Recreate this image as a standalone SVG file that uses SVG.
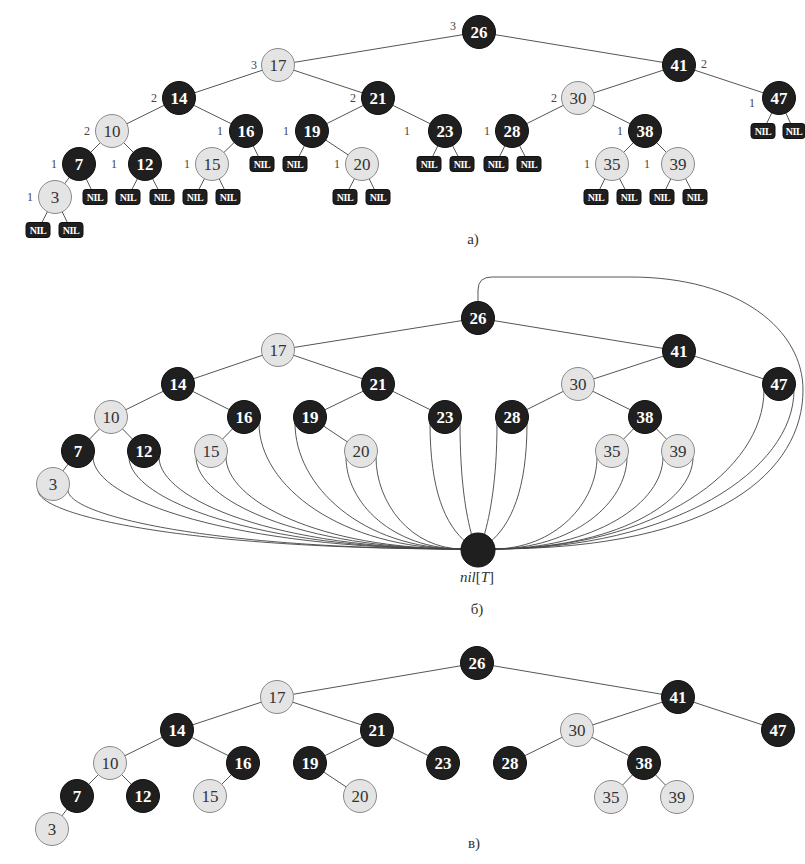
<svg xmlns="http://www.w3.org/2000/svg" width="805" height="864" viewBox="0 0 805 864">
<style>
.bg{fill:#fff}
.e{stroke:#555;stroke-width:1;fill:none}
.c{stroke:#444;stroke-width:0.9;fill:none}
.b{fill:#1f1f1f;stroke:#111;stroke-width:1}
.r{fill:#e4e4e4;stroke:#8a8a8a;stroke-width:1}
text{font-family:'Liberation Serif','Times New Roman','DejaVu Serif',serif}
.tb{font-weight:bold;font-size:17px;fill:#fff;text-anchor:middle}
.tr{font-size:17px;fill:#333;text-anchor:middle}
.nb{fill:#1f1f1f;stroke:#111;stroke-width:1}
.nt{font-weight:bold;font-size:10px;fill:#fff;text-anchor:middle;letter-spacing:-0.5px}
.h{font-size:12px;fill:#444;text-anchor:middle}
.cap{font-size:15px;fill:#333;text-anchor:middle}
</style>
<rect class="bg" x="0" y="0" width="805" height="864"/>

<!-- ===== Panel a ===== -->
<g id="a-connectors">
<line class="e" x1="479" y1="32" x2="278" y2="65"/>
<line class="e" x1="479" y1="32" x2="679" y2="65"/>
<line class="e" x1="278" y1="65" x2="179" y2="98"/>
<line class="e" x1="278" y1="65" x2="378" y2="98"/>
<line class="e" x1="179" y1="98" x2="112" y2="131"/>
<line class="e" x1="179" y1="98" x2="246" y2="131"/>
<line class="e" x1="112" y1="131" x2="79" y2="164"/>
<line class="e" x1="112" y1="131" x2="145" y2="164"/>
<line class="e" x1="79" y1="164" x2="55" y2="197"/>
<line class="e" x1="246" y1="131" x2="212" y2="164"/>
<line class="e" x1="378" y1="98" x2="312" y2="131"/>
<line class="e" x1="378" y1="98" x2="445" y2="131"/>
<line class="e" x1="312" y1="131" x2="362" y2="164"/>
<line class="e" x1="679" y1="65" x2="578" y2="98"/>
<line class="e" x1="679" y1="65" x2="779" y2="98"/>
<line class="e" x1="578" y1="98" x2="512" y2="131"/>
<line class="e" x1="578" y1="98" x2="645" y2="131"/>
<line class="e" x1="645" y1="131" x2="612" y2="164"/>
<line class="e" x1="645" y1="131" x2="678" y2="164"/>
<line class="e" x1="55" y1="197" x2="38" y2="230"/>
<line class="e" x1="55" y1="197" x2="71" y2="230"/>
<line class="e" x1="79" y1="164" x2="95" y2="197"/>
<line class="e" x1="145" y1="164" x2="128" y2="197"/>
<line class="e" x1="145" y1="164" x2="162" y2="197"/>
<line class="e" x1="212" y1="164" x2="195" y2="197"/>
<line class="e" x1="212" y1="164" x2="228" y2="197"/>
<line class="e" x1="246" y1="131" x2="262" y2="164"/>
<line class="e" x1="312" y1="131" x2="295" y2="164"/>
<line class="e" x1="362" y1="164" x2="345" y2="197"/>
<line class="e" x1="362" y1="164" x2="378" y2="197"/>
<line class="e" x1="445" y1="131" x2="429" y2="164"/>
<line class="e" x1="445" y1="131" x2="462" y2="164"/>
<line class="e" x1="512" y1="131" x2="496" y2="164"/>
<line class="e" x1="512" y1="131" x2="529" y2="164"/>
<line class="e" x1="612" y1="164" x2="596" y2="197"/>
<line class="e" x1="612" y1="164" x2="629" y2="197"/>
<line class="e" x1="678" y1="164" x2="662" y2="197"/>
<line class="e" x1="678" y1="164" x2="695" y2="197"/>
<line class="e" x1="779" y1="98" x2="763" y2="131"/>
<line class="e" x1="779" y1="98" x2="794" y2="131"/>
</g>

<g id="a-26"><circle class="b" cx="479" cy="32" r="16.5"/><text class="tb" x="479" y="38">26</text><text class="h" x="453" y="30">3</text></g>
<g id="a-17"><circle class="r" cx="278" cy="65" r="16.5"/><text class="tr" x="278" y="71">17</text><text class="h" x="254" y="69">3</text></g>
<g id="a-41"><circle class="b" cx="679" cy="65" r="16.5"/><text class="tb" x="679" y="71">41</text><text class="h" x="704" y="68">2</text></g>
<g id="a-14"><circle class="b" cx="179" cy="98" r="16.5"/><text class="tb" x="179" y="104">14</text><text class="h" x="154" y="102">2</text></g>
<g id="a-21"><circle class="b" cx="378" cy="98" r="16.5"/><text class="tb" x="378" y="104">21</text><text class="h" x="353" y="102">2</text></g>
<g id="a-30"><circle class="r" cx="578" cy="98" r="16.5"/><text class="tr" x="578" y="104">30</text><text class="h" x="554" y="102">2</text></g>
<g id="a-47"><circle class="b" cx="779" cy="98" r="16.5"/><text class="tb" x="779" y="104">47</text><text class="h" x="752" y="107">1</text></g>
<g id="a-10"><circle class="r" cx="112" cy="131" r="16.5"/><text class="tr" x="112" y="137">10</text><text class="h" x="87" y="135">2</text></g>
<g id="a-16"><circle class="b" cx="246" cy="131" r="16.5"/><text class="tb" x="246" y="137">16</text><text class="h" x="220" y="135">1</text></g>
<g id="a-19"><circle class="b" cx="312" cy="131" r="16.5"/><text class="tb" x="312" y="137">19</text><text class="h" x="286" y="135">1</text></g>
<g id="a-23"><circle class="b" cx="445" cy="131" r="16.5"/><text class="tb" x="445" y="137">23</text><text class="h" x="407" y="135">1</text></g>
<g id="a-28"><circle class="b" cx="512" cy="131" r="16.5"/><text class="tb" x="512" y="137">28</text><text class="h" x="487" y="135">1</text></g>
<g id="a-38"><circle class="b" cx="645" cy="131" r="16.5"/><text class="tb" x="645" y="137">38</text><text class="h" x="620" y="135">1</text></g>
<g id="a-7"><circle class="b" cx="79" cy="164" r="16.5"/><text class="tb" x="79" y="170">7</text><text class="h" x="54" y="168">1</text></g>
<g id="a-12"><circle class="b" cx="145" cy="164" r="16.5"/><text class="tb" x="145" y="170">12</text><text class="h" x="114" y="168">1</text></g>
<g id="a-15"><circle class="r" cx="212" cy="164" r="16.5"/><text class="tr" x="212" y="170">15</text><text class="h" x="187" y="168">1</text></g>
<g id="a-20"><circle class="r" cx="362" cy="164" r="16.5"/><text class="tr" x="362" y="170">20</text><text class="h" x="337" y="168">1</text></g>
<g id="a-35"><circle class="r" cx="612" cy="164" r="16.5"/><text class="tr" x="612" y="170">35</text><text class="h" x="587" y="168">1</text></g>
<g id="a-39"><circle class="r" cx="678" cy="164" r="16.5"/><text class="tr" x="678" y="170">39</text><text class="h" x="647" y="168">1</text></g>
<g id="a-3"><circle class="r" cx="55" cy="197" r="16.5"/><text class="tr" x="55" y="203">3</text><text class="h" x="30" y="201">1</text></g>

<g id="a-nil-leaves">
<rect class="nb" x="26" y="222.5" width="24" height="15" rx="3"/><text class="nt" x="38" y="234">NIL</text>
<rect class="nb" x="59" y="222.5" width="24" height="15" rx="3"/><text class="nt" x="71" y="234">NIL</text>
<rect class="nb" x="83" y="189.5" width="24" height="15" rx="3"/><text class="nt" x="95" y="201">NIL</text>
<rect class="nb" x="116" y="189.5" width="24" height="15" rx="3"/><text class="nt" x="128" y="201">NIL</text>
<rect class="nb" x="150" y="189.5" width="24" height="15" rx="3"/><text class="nt" x="162" y="201">NIL</text>
<rect class="nb" x="183" y="189.5" width="24" height="15" rx="3"/><text class="nt" x="195" y="201">NIL</text>
<rect class="nb" x="216" y="189.5" width="24" height="15" rx="3"/><text class="nt" x="228" y="201">NIL</text>
<rect class="nb" x="250" y="156.5" width="24" height="15" rx="3"/><text class="nt" x="262" y="168">NIL</text>
<rect class="nb" x="283" y="156.5" width="24" height="15" rx="3"/><text class="nt" x="295" y="168">NIL</text>
<rect class="nb" x="333" y="189.5" width="24" height="15" rx="3"/><text class="nt" x="345" y="201">NIL</text>
<rect class="nb" x="366" y="189.5" width="24" height="15" rx="3"/><text class="nt" x="378" y="201">NIL</text>
<rect class="nb" x="417" y="156.5" width="24" height="15" rx="3"/><text class="nt" x="429" y="168">NIL</text>
<rect class="nb" x="450" y="156.5" width="24" height="15" rx="3"/><text class="nt" x="462" y="168">NIL</text>
<rect class="nb" x="484" y="156.5" width="24" height="15" rx="3"/><text class="nt" x="496" y="168">NIL</text>
<rect class="nb" x="517" y="156.5" width="24" height="15" rx="3"/><text class="nt" x="529" y="168">NIL</text>
<rect class="nb" x="584" y="189.5" width="24" height="15" rx="3"/><text class="nt" x="596" y="201">NIL</text>
<rect class="nb" x="617" y="189.5" width="24" height="15" rx="3"/><text class="nt" x="629" y="201">NIL</text>
<rect class="nb" x="650" y="189.5" width="24" height="15" rx="3"/><text class="nt" x="662" y="201">NIL</text>
<rect class="nb" x="683" y="189.5" width="24" height="15" rx="3"/><text class="nt" x="695" y="201">NIL</text>
<rect class="nb" x="751" y="123.5" width="24" height="15" rx="3"/><text class="nt" x="763" y="135">NIL</text>
<rect class="nb" x="783" y="123.5" width="22" height="15" rx="3"/><text class="nt" x="794" y="135">NIL</text>
</g>
<text class="cap" x="473" y="244">а)</text>

<!-- ===== Panel b ===== -->
<g id="b-connectors">
<line class="e" x1="478" y1="318" x2="278" y2="350"/>
<line class="e" x1="478" y1="318" x2="679" y2="351"/>
<line class="e" x1="278" y1="350" x2="178" y2="384"/>
<line class="e" x1="278" y1="350" x2="378" y2="384"/>
<line class="e" x1="178" y1="384" x2="111" y2="417"/>
<line class="e" x1="178" y1="384" x2="244" y2="417"/>
<line class="e" x1="111" y1="417" x2="78" y2="451"/>
<line class="e" x1="111" y1="417" x2="144" y2="451"/>
<line class="e" x1="78" y1="451" x2="53" y2="484"/>
<line class="e" x1="244" y1="417" x2="211" y2="451"/>
<line class="e" x1="378" y1="384" x2="310" y2="417"/>
<line class="e" x1="378" y1="384" x2="445" y2="417"/>
<line class="e" x1="310" y1="417" x2="361" y2="451"/>
<line class="e" x1="679" y1="351" x2="578" y2="384"/>
<line class="e" x1="679" y1="351" x2="779" y2="384"/>
<line class="e" x1="578" y1="384" x2="512" y2="417"/>
<line class="e" x1="578" y1="384" x2="645" y2="417"/>
<line class="e" x1="645" y1="417" x2="612" y2="451"/>
<line class="e" x1="645" y1="417" x2="678" y2="451"/>
<path class="c" d="M38 490 C38 516 190 549 463 549"/>
<path class="c" d="M68 490 C68 516 215 549 463 549"/>
<path class="c" d="M93 457 C93 500 235 549 463 549"/>
<path class="c" d="M129 457 C129 500 258 549 463 549"/>
<path class="c" d="M159 457 C159 500 278 549 463 549"/>
<path class="c" d="M196 457 C196 500 300 549 463 549"/>
<path class="c" d="M226 457 C226 500 318 549 463 549"/>
<path class="c" d="M259 423 C259 486 341 549 463 549"/>
<path class="c" d="M295 423 C295 486 362 549 463 549"/>
<path class="c" d="M346 457 C346 503 393 549 463 549"/>
<path class="c" d="M376 457 C376 503 411 549 463 549"/>
<path class="c" d="M430 423 C430 490 445 525 467 543"/>
<path class="c" d="M460 423 C460 480 466 515 472 536"/>
<path class="c" d="M497 423 C497 480 490 515 484 536"/>
<path class="c" d="M527 423 C527 490 511 525 489 543"/>
<path class="c" d="M597 457 C597 503 555 549 493 549"/>
<path class="c" d="M627 457 C627 503 573 549 493 549"/>
<path class="c" d="M663 457 C663 503 595 549 493 549"/>
<path class="c" d="M693 457 C693 503 613 549 493 549"/>
<path class="c" d="M764 390 C764 470 656 549 493 549"/>
<path class="c" d="M794 390 C794 470 674 549 493 549"/>
<path class="c" d="M478 302 L478 290 Q478 277 492 277 L630 277 C740 277 803 330 803 390 C803 470 720 549 493 549"/>
</g>

<g id="b-26"><circle class="b" cx="478" cy="318" r="16.5"/><text class="tb" x="478" y="324">26</text></g>
<g id="b-17"><circle class="r" cx="278" cy="350" r="16.5"/><text class="tr" x="278" y="356">17</text></g>
<g id="b-41"><circle class="b" cx="679" cy="351" r="16.5"/><text class="tb" x="679" y="357">41</text></g>
<g id="b-14"><circle class="b" cx="178" cy="384" r="16.5"/><text class="tb" x="178" y="390">14</text></g>
<g id="b-21"><circle class="b" cx="378" cy="384" r="16.5"/><text class="tb" x="378" y="390">21</text></g>
<g id="b-30"><circle class="r" cx="578" cy="384" r="16.5"/><text class="tr" x="578" y="390">30</text></g>
<g id="b-47"><circle class="b" cx="779" cy="384" r="16.5"/><text class="tb" x="779" y="390">47</text></g>
<g id="b-10"><circle class="r" cx="111" cy="417" r="16.5"/><text class="tr" x="111" y="423">10</text></g>
<g id="b-16"><circle class="b" cx="244" cy="417" r="16.5"/><text class="tb" x="244" y="423">16</text></g>
<g id="b-19"><circle class="b" cx="310" cy="417" r="16.5"/><text class="tb" x="310" y="423">19</text></g>
<g id="b-23"><circle class="b" cx="445" cy="417" r="16.5"/><text class="tb" x="445" y="423">23</text></g>
<g id="b-28"><circle class="b" cx="512" cy="417" r="16.5"/><text class="tb" x="512" y="423">28</text></g>
<g id="b-38"><circle class="b" cx="645" cy="417" r="16.5"/><text class="tb" x="645" y="423">38</text></g>
<g id="b-7"><circle class="b" cx="78" cy="451" r="16.5"/><text class="tb" x="78" y="457">7</text></g>
<g id="b-12"><circle class="b" cx="144" cy="451" r="16.5"/><text class="tb" x="144" y="457">12</text></g>
<g id="b-15"><circle class="r" cx="211" cy="451" r="16.5"/><text class="tr" x="211" y="457">15</text></g>
<g id="b-20"><circle class="r" cx="361" cy="451" r="16.5"/><text class="tr" x="361" y="457">20</text></g>
<g id="b-35"><circle class="r" cx="612" cy="451" r="16.5"/><text class="tr" x="612" y="457">35</text></g>
<g id="b-39"><circle class="r" cx="678" cy="451" r="16.5"/><text class="tr" x="678" y="457">39</text></g>
<g id="b-3"><circle class="r" cx="53" cy="484" r="16.5"/><text class="tr" x="53" y="490">3</text></g>
<g id="b-nil"><circle class="b" cx="478" cy="550" r="17"/><text class="cap" x="477" y="582"><tspan font-style="italic">nil</tspan>[<tspan font-style="italic">T</tspan>]</text></g>
<text class="cap" x="477" y="614">б)</text>

<!-- ===== Panel c ===== -->
<g id="c-connectors">
<line class="e" x1="477" y1="663" x2="277" y2="697"/>
<line class="e" x1="477" y1="663" x2="678" y2="697"/>
<line class="e" x1="277" y1="697" x2="177" y2="730"/>
<line class="e" x1="277" y1="697" x2="377" y2="730"/>
<line class="e" x1="177" y1="730" x2="110" y2="763"/>
<line class="e" x1="177" y1="730" x2="243" y2="763"/>
<line class="e" x1="110" y1="763" x2="77" y2="796"/>
<line class="e" x1="110" y1="763" x2="143" y2="796"/>
<line class="e" x1="77" y1="796" x2="52" y2="829"/>
<line class="e" x1="243" y1="763" x2="210" y2="796"/>
<line class="e" x1="377" y1="730" x2="310" y2="763"/>
<line class="e" x1="377" y1="730" x2="443" y2="763"/>
<line class="e" x1="310" y1="763" x2="360" y2="796"/>
<line class="e" x1="678" y1="697" x2="577" y2="730"/>
<line class="e" x1="678" y1="697" x2="778" y2="730"/>
<line class="e" x1="577" y1="730" x2="510" y2="763"/>
<line class="e" x1="577" y1="730" x2="644" y2="763"/>
<line class="e" x1="644" y1="763" x2="611" y2="797"/>
<line class="e" x1="644" y1="763" x2="677" y2="797"/>
</g>

<g id="c-26"><circle class="b" cx="477" cy="663" r="16.5"/><text class="tb" x="477" y="669">26</text></g>
<g id="c-17"><circle class="r" cx="277" cy="697" r="16.5"/><text class="tr" x="277" y="703">17</text></g>
<g id="c-41"><circle class="b" cx="678" cy="697" r="16.5"/><text class="tb" x="678" y="703">41</text></g>
<g id="c-14"><circle class="b" cx="177" cy="730" r="16.5"/><text class="tb" x="177" y="736">14</text></g>
<g id="c-21"><circle class="b" cx="377" cy="730" r="16.5"/><text class="tb" x="377" y="736">21</text></g>
<g id="c-30"><circle class="r" cx="577" cy="730" r="16.5"/><text class="tr" x="577" y="736">30</text></g>
<g id="c-47"><circle class="b" cx="778" cy="730" r="16.5"/><text class="tb" x="778" y="736">47</text></g>
<g id="c-10"><circle class="r" cx="110" cy="763" r="16.5"/><text class="tr" x="110" y="769">10</text></g>
<g id="c-16"><circle class="b" cx="243" cy="763" r="16.5"/><text class="tb" x="243" y="769">16</text></g>
<g id="c-19"><circle class="b" cx="310" cy="763" r="16.5"/><text class="tb" x="310" y="769">19</text></g>
<g id="c-23"><circle class="b" cx="443" cy="763" r="16.5"/><text class="tb" x="443" y="769">23</text></g>
<g id="c-28"><circle class="b" cx="510" cy="763" r="16.5"/><text class="tb" x="510" y="769">28</text></g>
<g id="c-38"><circle class="b" cx="644" cy="763" r="16.5"/><text class="tb" x="644" y="769">38</text></g>
<g id="c-7"><circle class="b" cx="77" cy="796" r="16.5"/><text class="tb" x="77" y="802">7</text></g>
<g id="c-12"><circle class="b" cx="143" cy="796" r="16.5"/><text class="tb" x="143" y="802">12</text></g>
<g id="c-15"><circle class="r" cx="210" cy="796" r="16.5"/><text class="tr" x="210" y="802">15</text></g>
<g id="c-20"><circle class="r" cx="360" cy="796" r="16.5"/><text class="tr" x="360" y="802">20</text></g>
<g id="c-35"><circle class="r" cx="611" cy="797" r="16.5"/><text class="tr" x="611" y="803">35</text></g>
<g id="c-39"><circle class="r" cx="677" cy="797" r="16.5"/><text class="tr" x="677" y="803">39</text></g>
<g id="c-3"><circle class="r" cx="52" cy="829" r="16.5"/><text class="tr" x="52" y="835">3</text></g>
<text class="cap" x="474" y="848">в)</text>
</svg>
